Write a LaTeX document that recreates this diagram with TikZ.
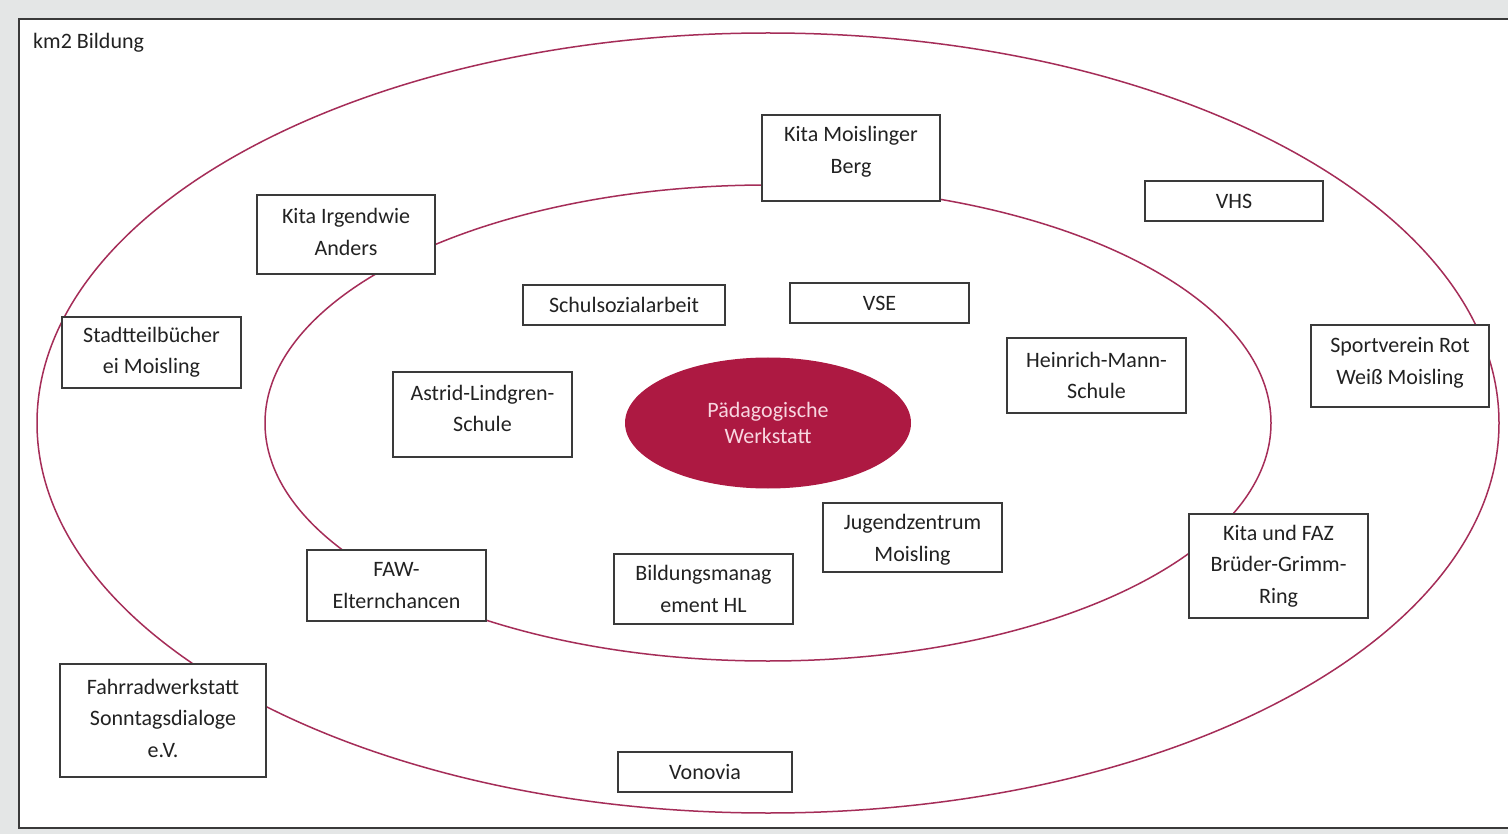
\documentclass[tikz,border=0pt]{standalone}
\usepackage{fontspec}
\setmainfont{Carlito}
\usetikzlibrary{shapes.geometric}
\definecolor{bggray}{HTML}{E4E6E6}
\definecolor{ringc}{RGB}{165,45,88}
\definecolor{corec}{RGB}{173,25,66}
\definecolor{coretxt}{RGB}{248,214,224}
\definecolor{boxline}{HTML}{3A3A3A}
\definecolor{txt}{HTML}{222222}
\begin{document}
\begin{tikzpicture}[x=1pt,y=-1pt,
  ring/.style={draw=ringc, line width=1.5pt, ellipse, inner sep=0pt},
  box/.style={draw=boxline, line width=1.5pt, fill=white, align=center, inner sep=0pt,
    text=txt, font=\fontsize{22}{31.5}\selectfont},
  boxtext/.style={align=center, inner sep=0pt, text=txt, font=\fontsize{22}{31.5}\selectfont},
  core/.style={ellipse, fill=corec, inner sep=0pt, align=center, text=coretxt,
    font=\fontsize{22}{26.5}\selectfont}]
\useasboundingbox (0,0) rectangle (1508,834);
\fill[bggray] (0,0) rectangle (1508,834);
\draw[boxline, line width=2pt, fill=white] (19,19) rectangle (1530,828);
\node[anchor=base west, inner sep=0pt, text=txt, font=\fontsize{22}{24}\selectfont] (title) at (33,49) {km2 Bildung};
% rings
\node[ring, minimum width=1462pt, minimum height=780pt] (outer) at (768,423) {};
\node[ring, minimum width=1006pt, minimum height=476pt] (inner) at (768,423) {};
\node[core, minimum width=286pt, minimum height=131pt] (pw) at (768,423) {Pädagogische\\Werkstatt};
% boxes
\node[box, minimum width=178pt, minimum height=86pt] (kmb) at (851,158) {};
\node[boxtext] (kmbt) at (851,152) {Kita Moislinger\\Berg};
\node[box, minimum width=178pt, minimum height=40pt] (vhs) at (1234,201) {VHS};
\node[box, minimum width=178pt, minimum height=79pt] (kia) at (346,234.5) {};
\node[boxtext] (kiat) at (346,232) {Kita Irgendwie\\Anders};
\node[box, minimum width=202pt, minimum height=40pt] (ssa) at (624,305) {Schulsozialarbeit};
\node[box, minimum width=179pt, minimum height=40pt] (vse) at (879.5,303) {VSE};
\node[box, minimum width=179pt, minimum height=71pt] (stb) at (151.5,352.5) {Stadtteilbücher\\ei Moisling};
\node[box, minimum width=178pt, minimum height=82pt] (spv) at (1400,366) {};
\node[boxtext] (spvt) at (1400,363) {Sportverein Rot\\Weiß Moisling};
\node[box, minimum width=179pt, minimum height=75pt] (hms) at (1096.5,375.5) {Heinrich-Mann-\\Schule};
\node[box, minimum width=179pt, minimum height=85pt] (als) at (482.5,414.5) {};
\node[boxtext] (alst) at (482.5,408.5) {Astrid-Lindgren-\\Schule};
\node[box, minimum width=179pt, minimum height=69pt] (jzm) at (912.5,537.5) {};
\node[boxtext] (jzmt) at (912.5,540) {Jugendzentrum\\Moisling};
\node[box, minimum width=179pt, minimum height=104pt] (kfaz) at (1278.5,566) {Kita und FAZ\\Brüder-Grimm-\\Ring};
\node[box, minimum width=179pt, minimum height=71pt] (faw) at (396.5,585.5) {FAW-\\Elternchancen};
\node[box, minimum width=179pt, minimum height=70pt] (bmhl) at (703.5,589) {Bildungsmanag\\ement HL};
\node[box, minimum width=206pt, minimum height=113pt] (frw) at (163,720.5) {};
\node[boxtext] (frwt) at (163,718) {Fahrradwerkstatt\\Sonntagsdialoge\\e.V.};
\node[box, minimum width=174pt, minimum height=40pt] (von) at (705,772) {Vonovia};
\end{tikzpicture}
\end{document}
